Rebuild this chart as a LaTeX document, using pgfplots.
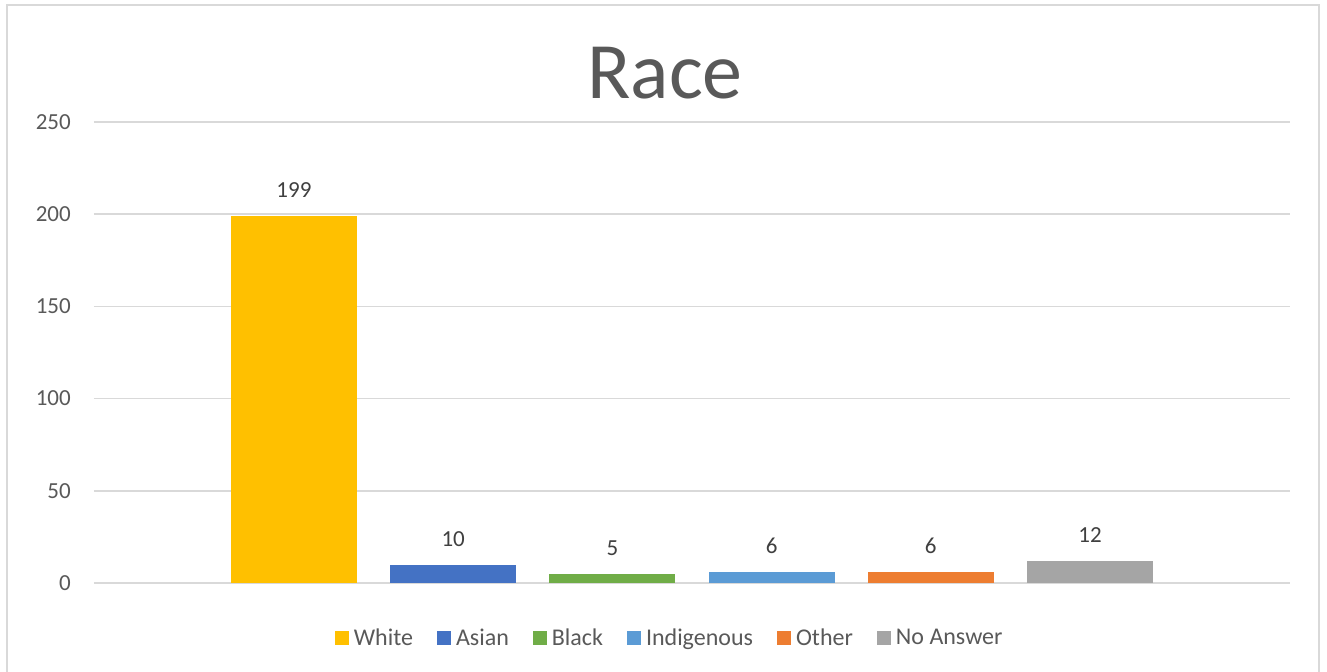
\documentclass[border=0pt]{standalone}
\usepackage{pgfplots}
\pgfplotsset{compat=1.18}
\usepackage{fontspec}
\setmainfont{Carlito}
\definecolor{cWhite}{HTML}{FFC000}
\definecolor{cAsian}{HTML}{4472C4}
\definecolor{cBlack}{HTML}{70AD47}
\definecolor{cIndig}{HTML}{5B9BD5}
\definecolor{cOther}{HTML}{ED7D31}
\definecolor{cNoAns}{HTML}{A5A5A5}
\definecolor{txtgray}{HTML}{595959}
\definecolor{lblgray}{HTML}{404040}
\definecolor{gridgray}{HTML}{D9D9D9}
\begin{document}
\begin{tikzpicture}
\path[use as bounding box] (-94bp,-89bp) rectangle (1233bp,583bp);
\begin{axis}[
  at={(0,0)}, anchor=south west,
  scale only axis,
  width=1196bp, height=461bp,
  xmin=-1.256, xmax=6.256,
  ymin=0, ymax=250,
  ytick={0,50,100,150,200,250},
  xtick=\empty,
  ymajorgrids,
  major grid style={draw=gridgray, line width=1.5bp},
  axis line style={draw=none},
  tick style={draw=none},
  major tick length=0pt,
  /pgf/number format/assume math mode=true,
  yticklabel style={font=\fontsize{23bp}{28bp}\selectfont, text=txtgray, inner sep=0pt, xshift=-23bp},
  ybar, bar width=126bp, bar shift=0pt,
  nodes near coords,
  every node near coord/.append style={font=\fontsize{23bp}{28bp}\selectfont, text=lblgray, inner sep=0pt, yshift=18bp},
  clip=false,
  title={Race},
  title style={at={(axis description cs:0.4774,1.039)}, anchor=base, font=\fontsize{80bp}{90bp}\selectfont, text=txtgray, inner sep=0pt},
  legend columns=6,
  legend image code/.code={\fill[#1] (0bp,-7bp) rectangle (14bp,7bp);},
  legend style={at={(axis description cs:0.4805,-0.119)}, anchor=center, draw=none, fill=none,
    font=\fontsize{24bp}{28bp}\selectfont, text=txtgray,
    nodes={inner sep=0pt},
    /tikz/every odd column/.append style={column sep=5bp},
    /tikz/every even column/.append style={column sep=24bp}},
]
\addplot[fill=cWhite, draw=none] coordinates {(0,199)};
\addplot[fill=cAsian, draw=none] coordinates {(1,10)};
\addplot[fill=cBlack, draw=none] coordinates {(2,5)};
\addplot[fill=cIndig, draw=none] coordinates {(3,6)};
\addplot[fill=cOther, draw=none] coordinates {(4,6)};
\addplot[fill=cNoAns, draw=none] coordinates {(5,12)};
\legend{White,Asian,Black,Indigenous,Other,No Answer}
\end{axis}
\draw[gridgray, line width=2bp] (-87bp,-89bp) -- (-87bp,578bp) -- (1225bp,578bp) -- (1225bp,-89bp);
\end{tikzpicture}
\end{document}
